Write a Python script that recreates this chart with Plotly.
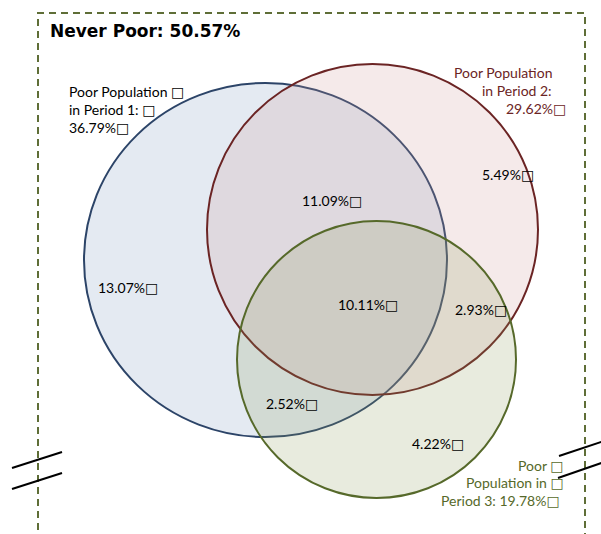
import plotly.graph_objects as go

# ---- data ----
never_poor = 50.57
set_names = ["Period 1", "Period 2", "Period 3"]
set_totals = [36.79, 29.62, 19.78]
region_names = ["P1 only", "P1&P2", "P1&P2&P3", "P2&P3", "P2 only", "P1&P3", "P3 only"]
region_values = [13.07, 11.09, 10.11, 2.93, 5.49, 2.52, 4.22]

# ---- layout geometry (pixel space) ----
W, H = 601, 534
circles = [  # x0, x1, y0, y1, fill, line
    (84, 447, 83, 437, "rgba(120,150,190,0.2)", "#2c4468"),
    (207, 538, 64, 395, "rgba(205,150,150,0.2)", "#6b2424"),
    (237, 516, 221, 498, "rgba(140,155,90,0.2)", "#56692a"),
]
region_pos = [(128, 287), (332, 200), (368, 304), (481, 309), (508, 174), (292, 403), (438, 443)]

BOX = '<span style="font-family:DejaVu Sans">\u25a1</span>'

fig = go.Figure()
fig.add_trace(go.Scatter(x=[0, W], y=[0, H], mode="markers", marker=dict(opacity=0),
                         hoverinfo="skip", showlegend=False))

shapes = []
for x0, x1, y0, y1, fc, lc in circles:
    shapes.append(dict(type="circle", xref="x", yref="y", x0=x0, x1=x1, y0=y0, y1=y1,
                       fillcolor=fc, line=dict(color=lc, width=2), layer="above"))
shapes.append(dict(type="path", xref="x", yref="y", path=f"M 38,{H + 20} L 38,13 L 585,13 L 585,{H + 20}",
                   line=dict(color="#5f6e37", width=2, dash="7px,5px"), layer="below"))
for (xa, ya, xb, yb) in [(12, 468, 62, 452), (12, 489, 62, 473), (559, 456, 610, 439), (558, 478, 610, 460)]:
    shapes.append(dict(type="line", xref="x", yref="y", x0=xa, y0=ya, x1=xb, y1=yb,
                       line=dict(color="black", width=2), layer="above"))

ann = []
FONT = "Lato"
FS = 14
for v, (x, y) in zip(region_values, region_pos):
    ann.append(dict(x=x, y=y, text=f"{v:.2f}%{BOX}", showarrow=False, xanchor="center", yanchor="middle",
                    font=dict(family=FONT, size=FS, color="black")))

lab1 = [f"Poor Population {BOX}", f"in Period 1: {BOX}", f"{set_totals[0]:.2f}%{BOX}"]
for i, t in enumerate(lab1):
    ann.append(dict(x=67, y=91 + 18 * i, text=t, showarrow=False, xanchor="left", yanchor="middle",
                    font=dict(family=FONT, size=FS, color="black")))
lab2 = [("Poor Population", 554), ("in Period 2:", 554), (f"{set_totals[1]:.2f}%{BOX}", 568)]
for i, (t, xr) in enumerate(lab2):
    ann.append(dict(x=xr, y=72 + 18 * i, text=t, showarrow=False, xanchor="right", yanchor="middle",
                    font=dict(family=FONT, size=FS, color="#6b2424")))
lab3 = [(f"Poor {BOX}", 566), (f"Population in {BOX}", 566), (f"Period 3: {set_totals[2]:.2f}%{BOX}", 562)]
for i, (t, xr) in enumerate(lab3):
    ann.append(dict(x=xr, y=465 + 17.5 * i, text=t, showarrow=False, xanchor="right", yanchor="middle",
                    font=dict(family=FONT, size=FS, color="#56692a")))

ann.append(dict(x=48, y=31, text=f"<b>Never Poor: {never_poor:.2f}%</b>", showarrow=False,
                xanchor="left", yanchor="middle", font=dict(family="DejaVu Sans", size=17, color="black")))

fig.update_layout(
    width=W, height=H, margin=dict(l=0, r=0, t=0, b=0),
    paper_bgcolor="white", plot_bgcolor="white",
    xaxis=dict(range=[0, W], visible=False, fixedrange=True),
    yaxis=dict(range=[H, 0], visible=False, fixedrange=True),
    shapes=shapes, annotations=ann, showlegend=False,
)
fig.write_html("out.html", config={"displayModeBar": False, "staticPlot": True},
               post_script="document.body.style.margin='0';document.body.style.overflow='hidden';"
                           "document.documentElement.style.overflow='hidden';")
